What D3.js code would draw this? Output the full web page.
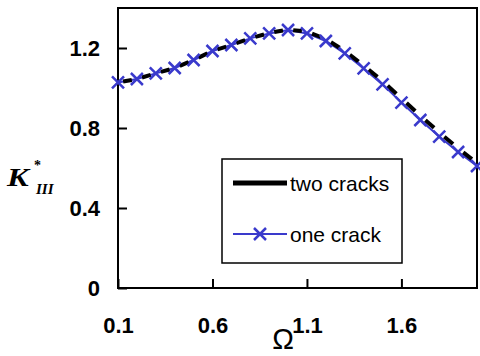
<!DOCTYPE html>
<html>
<head>
<meta charset="utf-8">
<script src="https://cdn.jsdelivr.net/npm/d3@7"></script>
<style>
  body { margin: 0; background: #fff; }
  svg { display: block; font-family: "Liberation Sans", Arial, sans-serif; }
</style>
</head>
<body>
<svg id="chart" width="480" height="356"></svg>
<script>
// values
var omega = [0.1, 0.2, 0.3, 0.4, 0.5, 0.6, 0.7, 0.8, 0.9, 1.0,
             1.1, 1.2, 1.3, 1.4, 1.5, 1.6, 1.7, 1.8, 1.9, 2.0];
var oneCrack = [1.028, 1.045, 1.073, 1.100, 1.140, 1.185, 1.215, 1.248, 1.273, 1.290,
                1.273, 1.235, 1.173, 1.098, 1.018, 0.927, 0.840, 0.757, 0.680, 0.610];
var twoCracks = [1.028, 1.045, 1.073, 1.100, 1.140, 1.185, 1.215, 1.248, 1.275, 1.292,
                 1.282, 1.245, 1.185, 1.112, 1.035, 0.948, 0.862, 0.778, 0.698, 0.625];
var xTicks = [0.1, 0.6, 1.1, 1.6];
var yTicks = [0, 0.4, 0.8, 1.2];
var seriesNames = ["two cracks", "one crack"];

var blue = "#3a3acc";
var svg = d3.select("#chart");

var x = d3.scaleLinear()
          .domain([0.1, 2.0])
          .range([118, 477]);
var y = d3.scaleLinear()
          .domain([0, 1.4])
          .range([288, 8]);

// axes, ticks point inward
svg.append("g")
    .attr("transform", "translate(" + x(0.1) + ",0)")
    .call(d3.axisLeft(y)
            .tickValues(yTicks)
            .tickSizeInner(-9)
            .tickSizeOuter(0)
            .tickPadding(18)
            .tickFormat(d => d === 0 ? "0" : d3.format(".1f")(d)))
    .call(g => g.select(".domain").remove())
    .call(g => g.selectAll("line").attr("stroke", "#000").attr("stroke-width", 2))
    .call(g => g.selectAll("text")
                .attr("fill", "#000")
                .attr("font-size", 22)
                .attr("font-weight", "bold")
                .attr("font-family", "Liberation Sans, Arial, sans-serif"));

svg.append("g")
    .attr("transform", "translate(0," + y(0) + ")")
    .call(d3.axisBottom(x)
            .tickValues(xTicks)
            .tickSizeInner(-9)
            .tickSizeOuter(0)
            .tickPadding(29)
            .tickFormat(d3.format(".1f")))
    .call(g => g.select(".domain").remove())
    .call(g => g.selectAll("line").attr("stroke", "#000").attr("stroke-width", 2))
    .call(g => g.selectAll("text")
                .attr("fill", "#000")
                .attr("font-size", 22)
                .attr("font-weight", "bold")
                .attr("font-family", "Liberation Sans, Arial, sans-serif"));

// plot frame
svg.append("rect")
    .attr("x", x(0.1))
    .attr("y", y(1.4))
    .attr("width", x(2.0) - x(0.1))
    .attr("height", y(0) - y(1.4))
    .attr("fill", "none")
    .attr("stroke", "#000")
    .attr("stroke-width", 2);

var oneData = omega.map((w, i) => ({ w: w, k: oneCrack[i] }));
var twoData = omega.map((w, i) => ({ w: w, k: twoCracks[i] }));

var line = d3.line()
             .x(d => x(d.w))
             .y(d => y(d.k));

// one crack line underneath
svg.append("path")
    .datum(oneData)
    .attr("fill", "none")
    .attr("stroke", blue)
    .attr("stroke-width", 2)
    .attr("d", line);

// two cracks shows as black pieces between the markers
var pieces = d3.pairs(twoData).map(p => {
  var a = p[0], b = p[1];
  return [
    { w: a.w + (b.w - a.w) * 0.27, k: a.k + (b.k - a.k) * 0.27 },
    { w: a.w + (b.w - a.w) * 0.73, k: a.k + (b.k - a.k) * 0.73 }
  ];
});
svg.append("g")
  .selectAll("path")
  .data(pieces)
  .enter()
    .append("path")
    .attr("fill", "none")
    .attr("stroke", "#000")
    .attr("stroke-width", 4)
    .attr("d", line);

// x markers
function cross(cx, cy, r) {
  return "M" + (cx - r) + "," + (cy - r) + "L" + (cx + r) + "," + (cy + r) +
         "M" + (cx - r) + "," + (cy + r) + "L" + (cx + r) + "," + (cy - r);
}
svg.append("g")
  .selectAll("path")
  .data(oneData)
  .enter()
    .append("path")
    .attr("fill", "none")
    .attr("stroke", blue)
    .attr("stroke-width", 2.5)
    .attr("d", d => cross(x(d.w), y(d.k), 6));

// legend
var legend = svg.append("g");
legend.append("rect")
    .attr("x", 222)
    .attr("y", 159)
    .attr("width", 180)
    .attr("height", 104)
    .attr("fill", "#fff")
    .attr("stroke", "#000")
    .attr("stroke-width", 1.5);

legend.append("line")
    .attr("x1", 233).attr("x2", 287)
    .attr("y1", 183).attr("y2", 183)
    .attr("stroke", "#000")
    .attr("stroke-width", 5);
legend.append("line")
    .attr("x1", 233).attr("x2", 287)
    .attr("y1", 234).attr("y2", 234)
    .attr("stroke", blue)
    .attr("stroke-width", 2);
legend.append("path")
    .attr("fill", "none")
    .attr("stroke", blue)
    .attr("stroke-width", 2.5)
    .attr("d", cross(260, 234, 6));

legend.selectAll("text")
  .data(seriesNames)
  .enter()
    .append("text")
    .attr("x", 290)
    .attr("y", (d, i) => 191 + i * 51)
    .attr("font-size", 21)
    .attr("fill", "#000")
    .text(d => d);

// axis titles
var yTitle = svg.append("g")
    .attr("font-family", "Liberation Serif, Times New Roman, serif")
    .attr("font-weight", "bold")
    .attr("font-style", "italic")
    .attr("fill", "#000");
yTitle.append("text")
    .attr("transform", "translate(7,186) scale(1.3,1)")
    .attr("font-size", 25)
    .text("K");
yTitle.append("text")
    .attr("x", 36)
    .attr("y", 194)
    .attr("font-size", 15)
    .text("III");
yTitle.append("text")
    .attr("x", 34)
    .attr("y", 170)
    .attr("font-size", 14)
    .attr("font-style", "normal")
    .text("*");

svg.append("text")
    .attr("x", 283)
    .attr("y", 349)
    .attr("text-anchor", "middle")
    .attr("font-size", 29)
    .attr("fill", "#000")
    .text("Ω");
</script>
</body>
</html>
